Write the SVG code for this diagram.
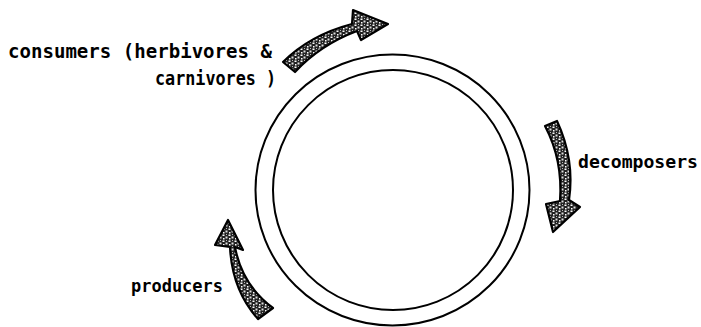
<svg xmlns="http://www.w3.org/2000/svg" width="701" height="327" viewBox="0 0 701 327">
  <defs>
    <pattern id="speck" width="6" height="6" patternUnits="userSpaceOnUse">
      <rect width="6" height="6" fill="#222"/>
      <rect x="0.5" y="0.5" width="2" height="1.5" fill="#fff"/>
      <rect x="3.5" y="2.5" width="2" height="2" fill="#ddd"/>
      <rect x="1" y="4" width="1.5" height="1.5" fill="#fff"/>
      <rect x="4" y="0" width="1" height="1" fill="#bbb"/>
    </pattern>
  </defs>
  <style>
    .ring { fill: none; stroke: #000; stroke-width: 2; }
    .lbl { font-family: "DejaVu Sans Mono", "Liberation Mono", monospace; font-weight: bold; fill: #000; }
    .arrow { fill: url(#speck); stroke: #000; stroke-width: 2.2; stroke-linejoin: round; }
  </style>
  <rect width="701" height="327" fill="#fff"/>

  <g id="cycle">
    <ellipse class="ring" cx="392.5" cy="190" rx="137" ry="135.5"/>
    <ellipse class="ring" cx="393" cy="190" rx="120" ry="120"/>
  </g>

  <g id="consumers">
    <text class="lbl" x="8" y="58" font-size="19" textLength="264" lengthAdjust="spacingAndGlyphs">consumers (herbivores &amp;</text>
    <text class="lbl" x="155" y="85" font-size="19" textLength="121" lengthAdjust="spacingAndGlyphs">carnivores )</text>
  </g>

  <g id="decomposers">
    <text class="lbl" x="578" y="168" font-size="18" textLength="120" lengthAdjust="spacingAndGlyphs">decomposers</text>
  </g>

  <g id="producers">
    <text class="lbl" x="131" y="292" font-size="17.5" textLength="92" lengthAdjust="spacingAndGlyphs">producers</text>
  </g>

  <g id="connectors">
    <path class="arrow" d="M 283,62 Q 310,35 352,24 L 353,10 L 388,24 L 361,40 L 357,31 Q 320,45 295,72 Z"/>
    <path class="arrow" d="M 545,126 L 557,121 Q 575,160 569,200 L 580,207 L 553,232 L 546,204 L 560,201 Q 563,160 545,126 Z"/>
    <path class="arrow" d="M 228,220 L 243,250 L 235,247 Q 242,285 273,308 L 258,319 Q 232,290 230,247 L 215,245 Z"/>
  </g>
</svg>
